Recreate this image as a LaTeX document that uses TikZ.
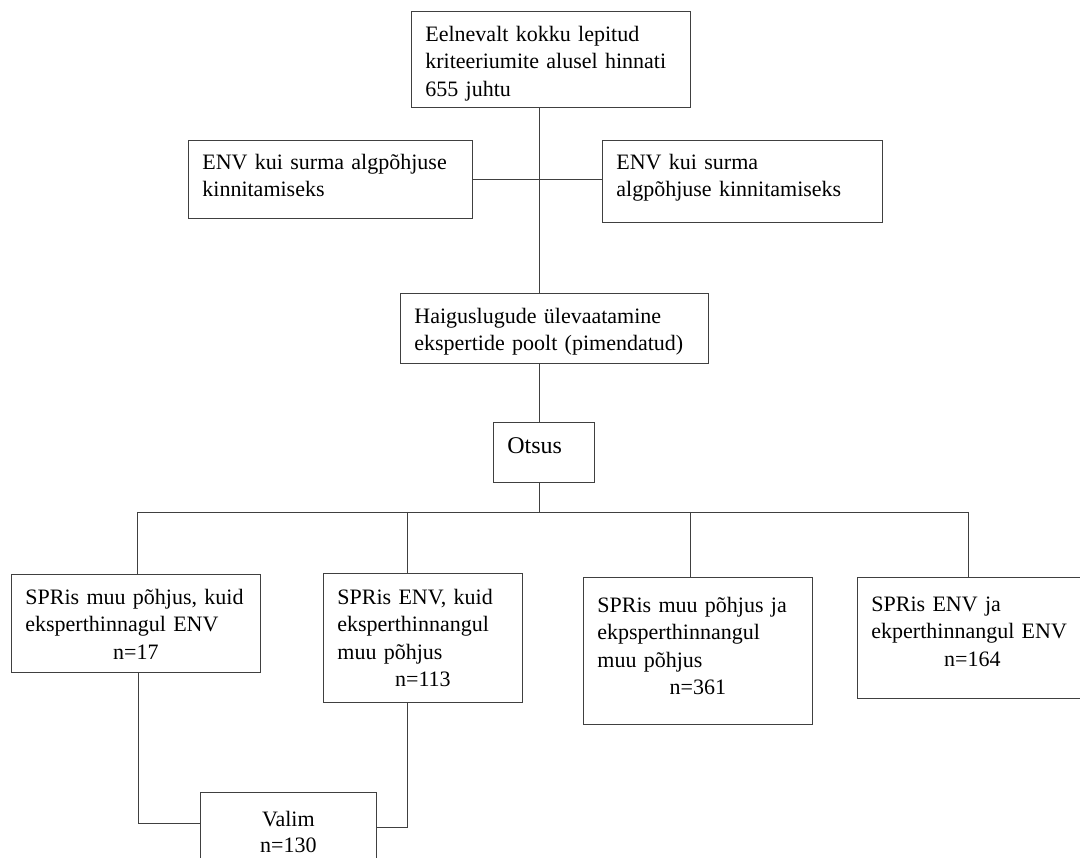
\documentclass[tikz,border=0pt]{standalone}
\usepackage{fontspec}
\setmainfont{Liberation Serif}
\usetikzlibrary{positioning}
\tikzset{
    block/.style={rectangle, draw=black!75, line width=0.8pt, anchor=north west, align=left, inner xsep=14pt, inner ysep=0pt, font=\fontsize{22}{27.5}\selectfont},
    line/.style={draw=black!75, line width=0.8pt}
}
\newcommand{\ncenter}[1]{\makebox[\linewidth]{#1}}

\begin{document}
\begin{tikzpicture}[x=1pt, y=-1pt]
            \useasboundingbox (0,0) rectangle (1080,858);
            \clip (0,0) rectangle (1080,858);
            \node[block, text width=251pt, text height=30pt, text depth=66pt] (start) at (411,11) {Eelnevalt kokku lepitud\\ kriteeriumite alusel hinnati\\ 655 juhtu};
            \node[block, text width=256pt, text height=29pt, text depth=49pt] (envL) at (188,140) {ENV kui surma algpõhjuse\\ kinnitamiseks};
            \node[block, text width=252pt, text height=29pt, text depth=53pt] (envR) at (602,140) {ENV kui surma\\ algpõhjuse kinnitamiseks};
            \node[block, text width=280pt, text height=30pt, text depth=40pt] (review) at (400,293) {Haiguslugude ülevaatamine\\ ekspertide poolt (pimendatud)};
            \node[block, text width=73pt, text height=31pt, text depth=29pt, font=\fontsize{24}{28}\selectfont] (otsus) at (493,422) {Otsus};
            \node[block, text width=221pt, text height=30pt, text depth=68pt] (sprA) at (11,574) {SPRis muu põhjus, kuid\\ eksperthinnagul ENV\\ \ncenter{n=17}};
            \node[block, text width=171pt, text height=31pt, text depth=98pt] (sprB) at (323,573) {SPRis ENV, kuid\\ eksperthinnangul\\ muu põhjus\\ \ncenter{n=113}};
            \node[block, text width=201pt, text height=35pt, text depth=112pt] (sprC) at (583,577) {SPRis muu põhjus ja\\ ekpsperthinnangul\\ muu põhjus\\ \ncenter{n=361}};
            \node[block, text width=202pt, text height=34pt, text depth=87pt] (sprD) at (857,577) {SPRis ENV ja\\ ekperthinnangul ENV\\ \ncenter{n=164}};
            \node[block, align=center, text width=148pt, text height=34pt, text depth=54pt, font=\fontsize{22}{26}\selectfont] (valim) at (200,792) {Valim\\ n=130};
            % connectors
            \coordinate (axis) at (539,0);
            \coordinate (dA) at (137,512);
            \coordinate (dB) at (407,512);
            \coordinate (dC) at (690,512);
            \coordinate (dD) at (968,512);
            \coordinate (jA) at (138,823);
            \coordinate (jB) at (407,827);
            \draw[line] (start.south -| axis) -- (review.north -| axis);
            \draw[line] (envL.east) -- (envL.east -| envR.west);
            \draw[line] (review.south -| axis) -- (otsus.north -| axis);
            \draw[line] (otsus.south -| axis) -- (axis |- dA);
            \draw[line] (dA) -- (dD);
            \draw[line] (dA) -- (dA |- sprA.north);
            \draw[line] (dB) -- (dB |- sprB.north);
            \draw[line] (dC) -- (dC |- sprC.north);
            \draw[line] (dD) -- (dD |- sprD.north);
            \draw[line] (sprA.south -| jA) |- (valim.west |- jA);
            \draw[line] (sprB.south -| jB) |- (valim.east |- jB);
        \end{tikzpicture}
\end{document}
